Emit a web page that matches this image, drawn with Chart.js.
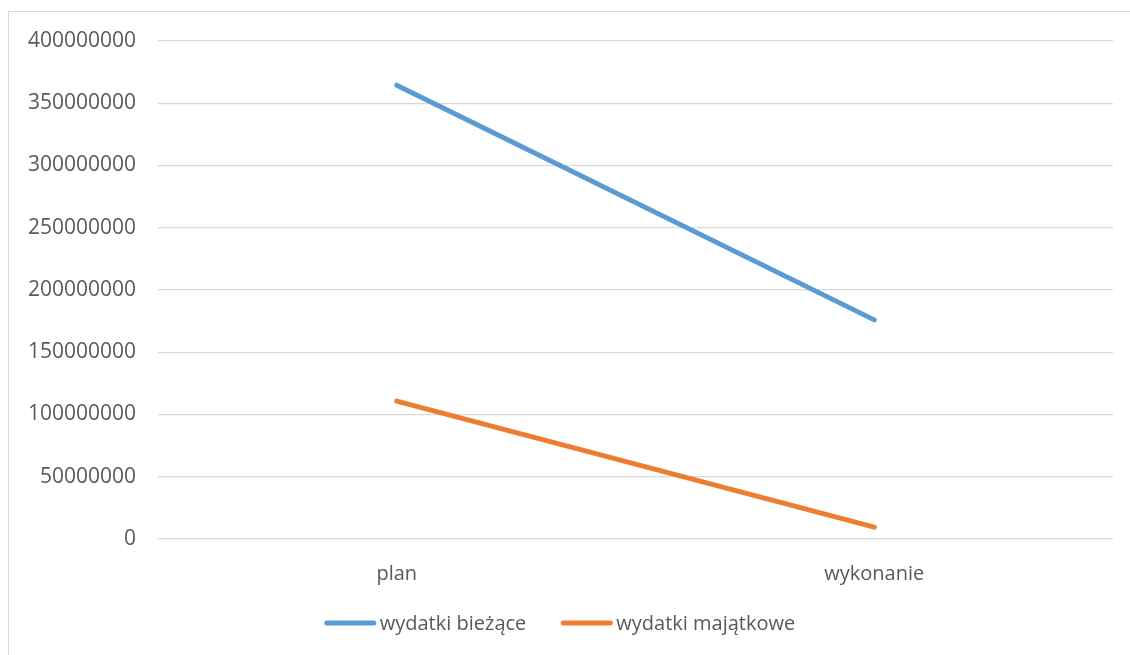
<!DOCTYPE html>
<html>
<head>
<meta charset="utf-8">
<script src="https://cdn.jsdelivr.net/npm/chart.js@4.4.1/dist/chart.umd.min.js"></script>
<style>
  html, body { margin: 0; padding: 0; background: #fff; overflow: hidden; }
  #wrap { position: relative; width: 1130px; height: 655px; }
  #frame { position: absolute; left: 8px; top: 11px; width: 1140px; height: 670px; border: 1px solid #d9d9d9; box-sizing: border-box; }
  canvas { position: absolute; left: 0; top: 0; }
</style>
</head>
<body>
<div id="wrap">
  <div id="frame"></div>
  <canvas id="chart" width="1130" height="655"></canvas>
</div>
<script>
// dane
const categories = ['plan', 'wykonanie'];
const wydatkiBiezace = [364500000, 176000000];
const wydatkiMajatkowe = [110800000, 9500000];
const yTicks = [0, 50000000, 100000000, 150000000, 200000000, 250000000, 300000000, 350000000, 400000000];

const FONT = "'Open Sans', 'DejaVu Sans', sans-serif";
const TEXT = '#595959';

// legenda rysowana na dole (linia + tekst, jak w Excelu)
const bottomLegend = {
    id: 'bottomLegend',
    afterDraw(chart) {
        const ctx = chart.ctx;
        const sets = chart.data.datasets;
        const lineW = 51, gapText = 4, gapItem = 35, y = 624;
        ctx.save();
        ctx.font = '20px ' + FONT;
        const widths = sets.map(ds => ctx.measureText(ds.label).width);
        let total = 0;
        widths.forEach((w, i) => { total += lineW + gapText + w + (i ? gapItem : 0); });
        let x = 560 - total / 2;
        sets.forEach((ds, i) => {
            ctx.strokeStyle = ds.borderColor;
            ctx.lineWidth = 5;
            ctx.lineCap = 'round';
            ctx.beginPath();
            ctx.moveTo(x + 2, y - 1);
            ctx.lineTo(x + lineW - 2, y - 1);
            ctx.stroke();
            ctx.fillStyle = TEXT;
            ctx.textBaseline = 'middle';
            ctx.textAlign = 'left';
            ctx.fillText(ds.label, x + lineW + gapText, y);
            x += lineW + gapText + widths[i] + gapItem;
        });
        ctx.restore();
    }
};

new Chart(document.getElementById('chart'), {
    type: 'line',
    data: {
        labels: categories,
        datasets: [
            { label: 'wydatki bieżące', data: wydatkiBiezace, borderColor: '#5b9bd5', backgroundColor: '#5b9bd5', borderWidth: 5, pointRadius: 0, tension: 0, borderCapStyle: 'round' },
            { label: 'wydatki majątkowe', data: wydatkiMajatkowe, borderColor: '#ed7d31', backgroundColor: '#ed7d31', borderWidth: 5, pointRadius: 0, tension: 0, borderCapStyle: 'round' }
        ]
    },
    options: {
        responsive: false,
        animation: false,
        layout: { padding: { left: 0, right: 17, top: 41, bottom: 0 } },
        plugins: {
            tooltip: { enabled: false },
            legend: { display: false }
        },
        scales: {
            x: {
                offset: true,
                grid: { display: false },
                border: { display: false },
                ticks: { color: TEXT, font: { family: FONT, size: 20 }, padding: 15 },
                afterFit: (scale) => { scale.height = 116; }
            },
            y: {
                min: 0,
                max: 400000000,
                afterBuildTicks: (scale) => { scale.ticks = yTicks.map(v => ({ value: v })); },
                grid: { color: '#d9d9d9', lineWidth: 1.3, drawTicks: false },
                border: { display: false },
                ticks: { color: TEXT, font: { family: FONT, size: 21 }, padding: 22, callback: (v) => String(v) },
                afterFit: (scale) => { scale.width = 158; }
            }
        }
    },
    plugins: [bottomLegend]
});
</script>
</body>
</html>
